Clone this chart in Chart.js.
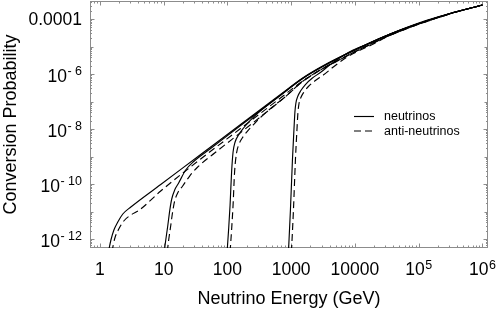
<!DOCTYPE html>
<html>
<head>
<meta charset="utf-8">
<script src="https://cdn.jsdelivr.net/npm/chart.js@4/dist/chart.umd.min.js"></script>
<style>
  html, body { margin: 0; padding: 0; background: #fff; }
  #wrap { width: 498px; height: 310px; }
</style>
</head>
<body>
<div id="wrap"><canvas id="c" width="498" height="310"></canvas></div>
<script>
/* ---------- dados ---------- */
const SERIES_NAMES = ['neutrinos', 'anti-neutrinos'];

// rótulos "base^expoente" (o expoente vai sobrescrito)
const xTickVals = [1, 10, 100, 1000, 10000, 1e5, 1e6];
const xTickLabels = ['1', '10', '100', '1000', '10000', '10^5', '10^6'];
const yTickVals = [1e-4, 1e-6, 1e-8, 1e-10, 1e-12];
const yTickLabels = ['0.0001', '10^- 6', '10^- 8', '10^- 10', '10^- 12'];

// limiar ~1 GeV
const nuE1 = [1.36, 1.49, 1.66, 1.91, 2.29, 3.06, 9.0, 38.1, 161, 680, 1557, 3441, 7604, 17410, 35810, 105500, 311200, 1e6];
const nuP1 = [3.37e-13, 9.2e-13, 2.12e-12, 4.15e-12, 8.11e-12, 1.46e-11, 9.6e-11, 1.18e-9, 1.46e-8, 1.80e-7, 7.46e-7, 2.21e-6, 5.56e-6, 1.34e-5, 2.85e-5, 7.46e-5, 1.58e-4, 3.23e-4];
const antiE1 = [1.54, 1.72, 1.98, 2.37, 3.06, 4.08, 9.0, 38.1, 161, 680, 1557, 3441, 7604, 17410, 35810, 105500, 311200, 1e6];
const antiP1 = [3.37e-13, 1.09e-12, 2.31e-12, 4.52e-12, 7.46e-12, 1.09e-11, 5.56e-11, 8.11e-10, 1.04e-8, 1.34e-7, 5.8e-7, 1.8e-6, 4.71e-6, 1.18e-5, 2.62e-5, 7.16e-5, 1.56e-4, 3.23e-4];

// limiar ~10 GeV
const nuE2 = [10.2, 10.8, 11.6, 12.5, 13.4, 14.9, 17.2, 22.2, 29.6, 54.6, 160.9, 680.4, 1557, 7604, 35810, 311200, 1e6];
const nuP2 = [3.37e-13, 9.2e-13, 2.97e-12, 1.13e-11, 2.85e-11, 6.05e-11, 1.09e-10, 3.23e-10, 6.58e-10, 1.95e-9, 1.34e-8, 1.69e-7, 7.16e-7, 5.47e-6, 2.85e-5, 1.58e-4, 3.23e-4];
const antiE2 = [11.4, 12.0, 12.9, 13.9, 14.9, 16.6, 19.9, 25.6, 34.2, 63.1, 185.9, 785.4, 1557, 7604, 35810, 311200, 1e6];
const antiP2 = [3.37e-13, 9.2e-13, 2.97e-12, 1.04e-11, 2.41e-11, 4.71e-11, 8.45e-11, 1.95e-10, 4.15e-10, 1.34e-9, 9.6e-9, 1.40e-7, 5.56e-7, 4.59e-6, 2.58e-5, 1.545e-4, 3.23e-4];

// limiar ~100 GeV
const nuE3 = [98.9, 104.4, 110.2, 116.4, 122.8, 132.1, 149.7, 179.5, 230.7, 307.6, 441.6, 680.4, 1557, 7604, 35810, 311200, 1e6];
const nuP3 = [3.37e-13, 2.12e-12, 1.72e-11, 2.73e-10, 1.46e-9, 3.37e-9, 6.05e-9, 1.09e-8, 2.12e-8, 3.98e-8, 7.78e-8, 1.69e-7, 7.16e-7, 5.52e-6, 2.85e-5, 1.58e-4, 3.23e-4];
const antiE3 = [110.2, 116.4, 122.8, 129.7, 139.3, 152.4, 172.9, 207, 266.6, 355.6, 509.3, 785.4, 1557, 7604, 35810, 311200, 1e6];
const antiP3 = [3.37e-13, 2.12e-12, 1.72e-11, 2.73e-10, 1.34e-9, 2.85e-9, 4.91e-9, 8.45e-9, 1.58e-8, 3.1e-8, 6.31e-8, 1.40e-7, 5.66e-7, 4.62e-6, 2.6e-5, 1.545e-4, 3.23e-4];

// limiar ~1000 GeV
const nuE4 = [907.3, 974.6, 1048, 1106, 1146, 1188, 1277, 1422, 1674, 2155, 2875, 4121, 5912, 8472, 17410, 35810, 311200, 1e6];
const nuP4 = [3.37e-13, 1.13e-11, 7.46e-10, 9.2e-9, 4.15e-8, 8.82e-8, 1.58e-7, 2.51e-7, 4.15e-7, 7.16e-7, 1.135e-6, 2.21e-6, 3.98e-6, 6.58e-6, 1.34e-5, 2.85e-5, 1.58e-4, 3.23e-4];
const antiE4 = [1011, 1087, 1167, 1233, 1277, 1325, 1422, 1585, 1866, 2401, 3200, 4592, 6584, 9436, 18720, 35810, 311200, 1e6];
const antiP4 = [3.37e-13, 1.13e-11, 7.46e-10, 9.2e-9, 3.82e-8, 8.11e-8, 1.40e-7, 2.21e-7, 3.51e-7, 5.8e-7, 9.2e-7, 1.8e-6, 3.37e-6, 5.56e-6, 1.18e-5, 2.58e-5, 1.545e-4, 3.23e-4];

/* ---------- estilo ---------- */
const FONT = '"Liberation Sans", Arial, Helvetica, sans-serif';
const FRAME_CO = '#8c8c8c';
const DASH = [7, 4];
const TICK_PX = 17.5, SUP_PX = 12.5, SUP_RAISE = 6.5;

const pts = (E, P) => E.map((e, i) => ({ x: e, y: P[i] }));
function curve(E, P, dashed) {
    return {
        data: pts(E, P),
        borderColor: '#000',
        borderWidth: 1.15,
        borderDash: dashed ? DASH : [],
        pointRadius: 0,
        fill: false,
        cubicInterpolationMode: 'monotone'
    };
}

/* ---------- moldura com marcas internas (estilo Mathematica) ---------- */
const framePlugin = {
    id: 'frame',
    beforeDatasetsDraw(chart) {
        const { ctx, chartArea: a, scales: { x, y } } = chart;
        const L = Math.round(a.left) + 0.5, R = Math.round(a.right) - 0.5;
        const T = Math.round(a.top) + 0.5, B = Math.round(a.bottom) - 0.5;
        ctx.save();
        ctx.strokeStyle = FRAME_CO;
        ctx.lineWidth = 1;
        ctx.strokeRect(L, T, R - L, B - T);
        ctx.beginPath();
        for (let d = -1; d <= 6; d++) {
            for (let m = 1; m <= 9; m++) {
                const v = m * Math.pow(10, d);
                if (v < x.min || v > x.max) continue;
                const px = Math.round(x.getPixelForValue(v)) + 0.5;
                const len = m === 1 ? 4 : 2;
                ctx.moveTo(px, B); ctx.lineTo(px, B - len);
                ctx.moveTo(px, T); ctx.lineTo(px, T + len);
            }
        }
        for (let d = -13; d <= -3; d++) {
            for (let m = 1; m <= 9; m++) {
                const v = m * Math.pow(10, d);
                if (v < y.min || v > y.max) continue;
                const py = Math.round(y.getPixelForValue(v)) + 0.5;
                const len = m === 1 ? (d % 2 === 0 ? 4 : 3) : 1.5;
                ctx.moveTo(L, py); ctx.lineTo(L + len, py);
                ctx.moveTo(R, py); ctx.lineTo(R - len, py);
            }
        }
        ctx.stroke();
        ctx.restore();
    }
};

/* ---------- rótulos dos eixos com expoente sobrescrito ---------- */
function drawLabel(ctx, label, anchorX, baseY, align) {
    const [base, sup] = label.split('^');
    ctx.font = TICK_PX + 'px ' + FONT;
    const wb = ctx.measureText(base).width;
    ctx.font = SUP_PX + 'px ' + FONT;
    const ws = sup ? ctx.measureText(sup).width + 0.5 : 0;
    const x0 = align === 'center' ? anchorX - (wb + ws) / 2 : anchorX - wb - ws;
    ctx.textAlign = 'left';
    ctx.font = TICK_PX + 'px ' + FONT;
    ctx.fillText(base, x0, baseY);
    if (sup) {
        ctx.font = SUP_PX + 'px ' + FONT;
        ctx.fillText(sup, x0 + wb + 0.5, baseY - SUP_RAISE);
    }
}
const tickTextPlugin = {
    id: 'tickText',
    afterDraw(chart) {
        const { ctx, chartArea: a, scales: { x, y } } = chart;
        ctx.save();
        ctx.fillStyle = '#000';
        ctx.textBaseline = 'alphabetic';
        xTickVals.forEach((v, i) => {
            drawLabel(ctx, xTickLabels[i], x.getPixelForValue(v), a.bottom + 27, 'center');
        });
        yTickVals.forEach((v, i) => {
            const lbl = yTickLabels[i];
            const off = lbl.includes('^') ? 7.5 : 6.3;
            drawLabel(ctx, lbl, a.left - 8, y.getPixelForValue(v) + off, 'right');
        });
        ctx.restore();
    }
};

/* ---------- legenda dentro do gráfico ---------- */
const legendPlugin = {
    id: 'innerLegend',
    afterDraw(chart) {
        const { ctx, chartArea: a } = chart;
        const x0 = a.left + 264, y0 = a.top + 115.5, gap = 14.5;
        ctx.save();
        ctx.font = '12.5px ' + FONT;
        ctx.fillStyle = '#000';
        ctx.strokeStyle = '#000';
        ctx.lineWidth = 1.15;
        ctx.textBaseline = 'middle';
        SERIES_NAMES.forEach((name, i) => {
            const yy = y0 + i * gap;
            ctx.setLineDash(i === 0 ? [] : DASH);
            ctx.beginPath();
            ctx.moveTo(x0, yy); ctx.lineTo(x0 + 20, yy);
            ctx.stroke();
            ctx.fillText(name, x0 + 30, yy + 0.5);
        });
        ctx.restore();
    }
};

new Chart(document.getElementById('c').getContext('2d'), {
    type: 'line',
    data: {
        datasets: [
            curve(nuE1, nuP1, false), curve(antiE1, antiP1, true),
            curve(nuE2, nuP2, false), curve(antiE2, antiP2, true),
            curve(nuE3, nuP3, false), curve(antiE3, antiP3, true),
            curve(nuE4, nuP4, false), curve(antiE4, antiP4, true)
        ]
    },
    options: {
        responsive: false,
        animation: false,
        devicePixelRatio: 1,
        layout: { padding: { top: 1, right: 10, left: 0, bottom: 0 } },
        plugins: { legend: { display: false }, tooltip: { enabled: false } },
        scales: {
            x: {
                type: 'logarithmic',
                min: 0.723, max: 1.224e6,
                grid: { display: false, drawTicks: false },
                border: { display: false },
                afterBuildTicks: s => { s.ticks = xTickVals.map(v => ({ value: v })); },
                afterFit: s => { s.height = 62; s.paddingLeft = 0; s.paddingRight = 0; },
                ticks: { display: false },
                title: {
                    display: true, text: 'Neutrino Energy (GeV)', color: '#000',
                    font: { family: FONT, size: 18 }, padding: { top: 0, bottom: 0 }
                }
            },
            y: {
                type: 'logarithmic',
                min: 4.71e-13, max: 4.52e-4,
                grid: { display: false, drawTicks: false },
                border: { display: false },
                afterBuildTicks: s => { s.ticks = yTickVals.map(v => ({ value: v })); },
                afterFit: s => { s.width = 90; s.paddingTop = 0; s.paddingBottom = 0; },
                ticks: { display: false },
                title: {
                    display: true, text: 'Conversion Probability', color: '#000',
                    font: { family: FONT, size: 18 }, padding: { top: 0, bottom: 0 }
                }
            }
        }
    },
    plugins: [framePlugin, tickTextPlugin, legendPlugin]
});
</script>
</body>
</html>
